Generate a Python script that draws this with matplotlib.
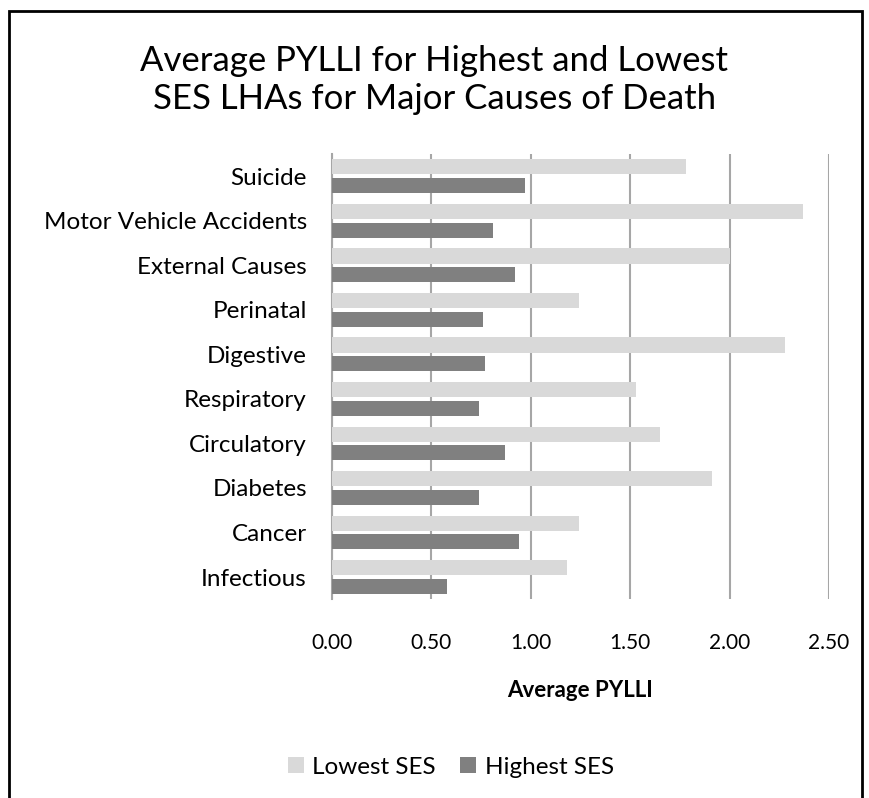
import numpy as np
import matplotlib.pyplot as plt
from matplotlib.patches import Rectangle

plt.rcParams['font.family'] = ['Lato', 'DejaVu Sans']

causes = ['Infectious', 'Cancer', 'Diabetes', 'Circulatory', 'Respiratory',
          'Digestive', 'Perinatal', 'External Causes', 'Motor Vehicle Accidents', 'Suicide']
lowest_ses = [1.18, 1.24, 1.91, 1.65, 1.53, 2.28, 1.24, 2.00, 2.37, 1.78]
highest_ses = [0.58, 0.94, 0.74, 0.87, 0.74, 0.77, 0.76, 0.92, 0.81, 0.97]
xticks = [0.0, 0.5, 1.0, 1.5, 2.0, 2.5]

fig = plt.figure(figsize=(8.69, 7.98), dpi=100)
ax = fig.add_axes([0.382, 0.249, 0.572, 0.558])

y = np.arange(len(causes))
h = 0.34
ax.barh(y + 0.21, lowest_ses, height=h, color='#d9d9d9', label='Lowest SES', zorder=3)
ax.barh(y - 0.21, highest_ses, height=h, color='#808080', label='Highest SES', zorder=3)

ax.set_ylim(-0.5, 9.5)
ax.set_xlim(0, 2.5)
ax.set_yticks(y)
ax.set_yticklabels(causes, fontsize=17.5)
ax.set_xticks(xticks)
ax.set_xticklabels(['%.2f' % v for v in xticks], fontsize=15)
ax.tick_params(axis='y', length=0, pad=18)
ax.tick_params(axis='x', length=0, pad=24)
ax.xaxis.grid(True, color='#a6a6a6', linewidth=1.5, zorder=0)
for s in ['top', 'right', 'bottom']:
    ax.spines[s].set_visible(False)
ax.spines['left'].set_color('#a6a6a6')
ax.spines['left'].set_linewidth(1.5)
ax.set_xlabel('Average PYLLI', fontsize=16, fontweight='bold', labelpad=20)

fig.text(0.5, 0.943, 'Average PYLLI for Highest and Lowest\nSES LHAs for Major Causes of Death',
         ha='center', va='top', fontsize=25, linespacing=1.22)

fig.legend(loc='center', bbox_to_anchor=(451 / 869, 1 - 767 / 798), ncol=2,
           frameon=False, fontsize=17.5, handlelength=0.65, handleheight=0.65,
           columnspacing=1.0, handletextpad=0.35)

fig.patches.append(Rectangle((9 / 869, -0.05), 853 / 869, 0.05 + 1 - 11 / 798,
                             transform=fig.transFigure, fill=False,
                             edgecolor='black', linewidth=2))

fig.savefig('out.png', dpi=100)
